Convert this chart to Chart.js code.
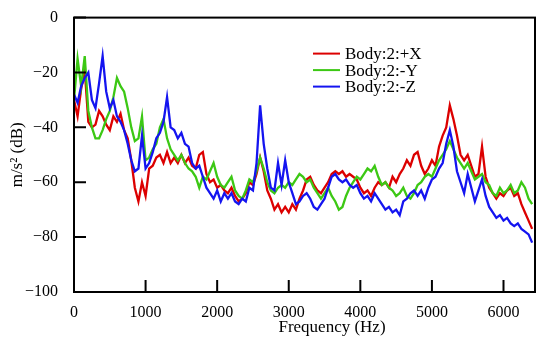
<!DOCTYPE html>
<html lang="en">
<head>
  <meta charset="utf-8">
  <title>Body:2 spectrum</title>
  <script src="https://cdn.jsdelivr.net/npm/chart.js@4.4.1/dist/chart.umd.min.js"></script>
  <style>
    html, body { margin: 0; padding: 0; background: #fff; }
  </style>
</head>
<body>
  <canvas id="chart" width="550" height="348"></canvas>
  <script>
    // frequency bins (Hz)
    const freqs = [
      0, 50, 100, 150, 200, 250, 300, 350, 400, 450, 500, 550, 600, 650, 700, 750, 800, 850, 900, 950,
      1000, 1050, 1100, 1150, 1200, 1250, 1300, 1350, 1400, 1450, 1500, 1550, 1600, 1650, 1700, 1750, 1800, 1850, 1900, 1950,
      2000, 2050, 2100, 2150, 2200, 2250, 2300, 2350, 2400, 2450, 2500, 2550, 2600, 2650, 2700, 2750, 2800, 2850, 2900, 2950,
      3000, 3050, 3100, 3150, 3200, 3250, 3300, 3350, 3400, 3450, 3500, 3550, 3600, 3650, 3700, 3750, 3800, 3850, 3900, 3950,
      4000, 4050, 4100, 4150, 4200, 4250, 4300, 4350, 4400, 4450, 4500, 4550, 4600, 4650, 4700, 4750, 4800, 4850, 4900, 4950,
      5000, 5050, 5100, 5150, 5200, 5250, 5300, 5350, 5400, 5450, 5500, 5550, 5600, 5650, 5700, 5750, 5800, 5850, 5900, 5950,
      6000, 6050, 6100, 6150, 6200, 6250, 6300, 6350, 6400
    ];

    // Body:2:+X (dB)
    const bodyX = [
      -30, -36, -26, -19, -38, -40, -39, -34, -36, -39, -41, -36, -38, -35, -41, -44, -52, -62, -67, -60,
      -65, -55, -54, -51, -50, -53, -49, -53, -51, -53, -50, -53, -51, -54, -55, -50, -49, -57, -60, -59,
      -62, -61, -63, -64, -62, -65, -67, -66, -64, -60, -61, -57, -51, -56, -63, -66, -70, -68, -71, -69,
      -71, -68, -70, -66, -63, -59, -58, -61, -63, -64, -62, -60, -57, -56, -57, -56, -58, -57, -58, -59,
      -62, -64, -63, -65, -62, -60, -61, -60, -62, -58, -60, -57, -55, -52, -54, -50, -49, -54, -57, -55,
      -52, -54, -47, -43, -40, -32, -37, -43, -50, -52, -50, -54, -58, -57, -47, -58, -62, -64, -66, -64,
      -65, -63, -62, -65, -64, -68, -71, -74, -77
    ];

    // Body:2:-Y (dB)
    const bodyY = [
      -30, -15, -25, -14, -34, -40, -44, -44, -41, -37, -34, -29, -22, -25, -27, -33, -40, -45, -44, -36,
      -52, -51, -48, -46, -40, -37, -44, -48, -50, -52, -50, -53, -55, -56, -58, -62, -58, -59, -56, -53,
      -58, -61, -62, -60, -58, -63, -65, -66, -63, -59, -60, -56, -51, -55, -60, -63, -64, -62, -61, -62,
      -60, -61, -59, -57, -58, -60, -59, -62, -64, -66, -64, -62, -65, -67, -70, -69, -65, -62, -60, -58,
      -59, -57, -55, -56, -54, -58, -61, -60, -62, -63, -65, -64, -62, -65, -66, -64, -61, -60, -58, -57,
      -58, -55, -52, -50, -48, -45, -48, -51, -53, -55, -53, -56, -59, -58, -57, -60, -61, -64, -65, -62,
      -64, -63, -61, -64, -63, -60, -62, -66, -68
    ];

    // Body:2:-Z (dB)
    const bodyZ = [
      -28, -31, -25, -22, -20, -30, -33, -24, -14, -27, -33, -30, -36, -38, -41, -46, -52, -56, -55, -43,
      -55, -53, -49, -44, -42, -38, -29, -40, -41, -44, -42, -46, -47, -53, -55, -54, -58, -62, -64, -66,
      -63, -67, -64, -66, -64, -67, -68, -66, -67, -62, -63, -53, -32, -46, -55, -62, -63, -53, -61, -52,
      -60, -64, -68, -67, -65, -64, -66, -69, -70, -68, -66, -62, -58, -57, -59, -60, -59, -61, -62, -61,
      -64, -66, -65, -67, -64, -66, -68, -70, -69, -71, -70, -72, -67, -66, -64, -63, -65, -63, -66, -62,
      -59, -58, -55, -53, -46, -41, -47, -56, -60, -64, -57, -62, -67, -63, -59, -65, -69, -71, -73, -72,
      -74, -73, -75, -76, -75, -77, -78, -79, -82
    ];

    const seriesNames = ['Body:2:+X', 'Body:2:-Y', 'Body:2:-Z'];
    const seriesColors = ['#dc0000', '#3cc814', '#1414f0'];
    const xTicks = [0, 1000, 2000, 3000, 4000, 5000, 6000];
    const yTicks = [0, -20, -40, -60, -80, -100];

    const serif = "'Liberation Serif', 'Times New Roman', serif";
    Chart.defaults.font.family = serif;
    Chart.defaults.color = '#000';

    function points(values) {
      return freqs.map((f, i) => ({ x: f, y: values[i] }));
    }

    // frame, inward tick marks, legend and x title
    const framePlugin = {
      id: 'frame',
      afterDatasetsDraw(chart) {
        const { ctx, chartArea: a, scales } = chart;
        ctx.save();
        ctx.strokeStyle = '#000';
        ctx.lineWidth = 2;
        ctx.strokeRect(a.left, a.top, a.right - a.left, a.bottom - a.top);
        ctx.beginPath();
        xTicks.forEach(v => {
          const px = scales.x.getPixelForValue(v);
          ctx.moveTo(px, a.bottom);
          ctx.lineTo(px, a.bottom - 12);
        });
        yTicks.forEach(v => {
          const py = scales.y.getPixelForValue(v);
          ctx.moveTo(a.left, py);
          ctx.lineTo(a.left + 12, py);
        });
        ctx.stroke();

        // legend inside the plot
        ctx.font = '17px ' + serif;
        ctx.textBaseline = 'middle';
        ctx.textAlign = 'left';
        seriesNames.forEach((name, i) => {
          const ly = a.top + 36 + i * 16.5;
          ctx.strokeStyle = seriesColors[i];
          ctx.lineWidth = 2;
          ctx.beginPath();
          ctx.moveTo(a.left + 239, ly);
          ctx.lineTo(a.left + 266, ly);
          ctx.stroke();
          ctx.fillStyle = '#000';
          ctx.fillText(name, a.left + 271, ly + 1);
        });

        // x axis title
        ctx.textAlign = 'center';
        ctx.fillText('Frequency (Hz)', a.left + 258, a.bottom + 36);
        ctx.restore();
      }
    };

    const ctx = document.getElementById('chart').getContext('2d');
    const myChart = new Chart(ctx, {
      type: 'line',
      data: {
        datasets: [
          { label: seriesNames[0], data: points(bodyX), borderColor: seriesColors[0], order: 2 },
          { label: seriesNames[1], data: points(bodyY), borderColor: seriesColors[1], order: 1 },
          { label: seriesNames[2], data: points(bodyZ), borderColor: seriesColors[2], order: 0 }
        ]
      },
      options: {
        responsive: false,
        animation: false,
        parsing: false,
        elements: {
          point: { radius: 0 },
          line: { borderWidth: 2.3, tension: 0 }
        },
        layout: { padding: { top: 9, right: 15, left: 0, bottom: 0 } },
        plugins: {
          legend: { display: false },
          tooltip: { enabled: false }
        },
        scales: {
          x: {
            type: 'linear',
            min: 0,
            max: 6440,
            grid: { display: false },
            border: { display: false },
            afterBuildTicks: s => { s.ticks = xTicks.map(v => ({ value: v })); },
            afterFit: s => { s.height = 56; },
            ticks: {
              font: { size: 16 },
              padding: 3,
              maxRotation: 0,
              callback: v => String(v)
            }
          },
          y: {
            min: -100,
            max: 0,
            grid: { display: false },
            border: { display: false },
            afterBuildTicks: s => { s.ticks = yTicks.map(v => ({ value: v })); },
            afterFit: s => { s.width = 74; },
            ticks: {
              font: { size: 16 },
              padding: 8,
              callback: v => String(v).replace('-', '\u2212')
            },
            title: {
              display: true,
              text: 'm/s\u00b2 (dB)',
              font: { size: 17 },
              padding: { top: 7, bottom: 0 }
            }
          }
        }
      },
      plugins: [framePlugin]
    });
  </script>
</body>
</html>
